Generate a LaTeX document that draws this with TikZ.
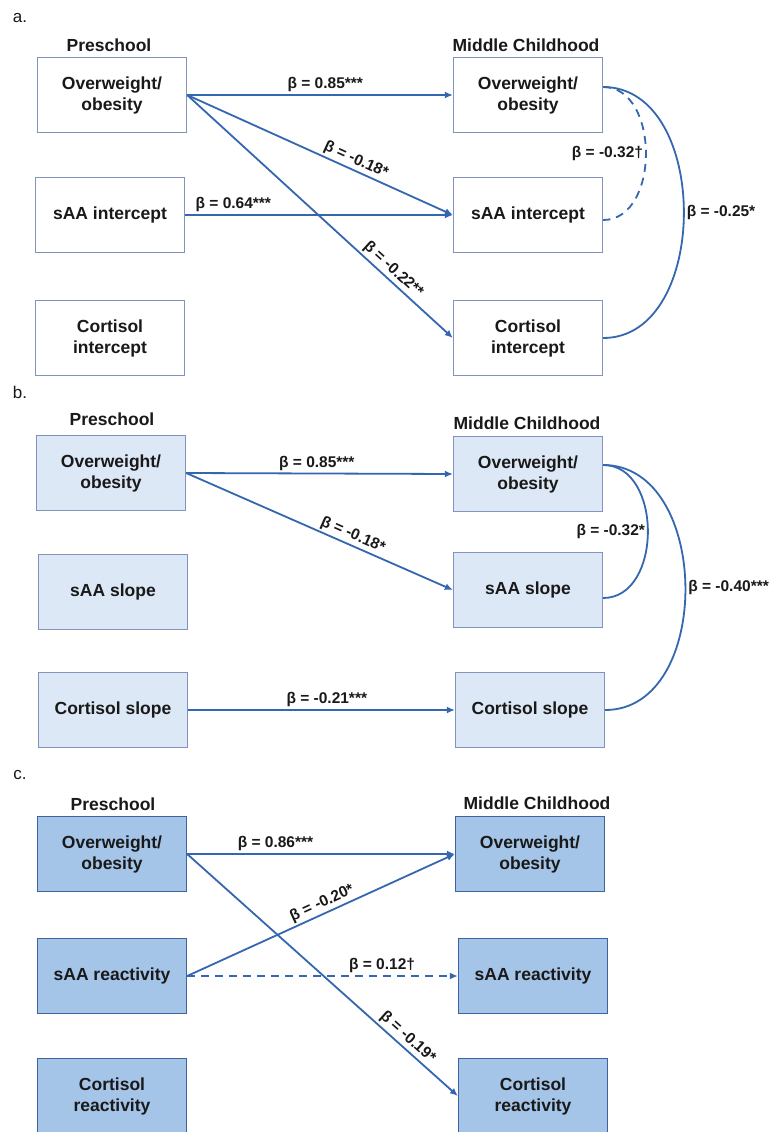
\documentclass[tikz,border=0pt]{standalone}
\usepackage{fontspec}
\setmainfont{Liberation Sans}
\usetikzlibrary{arrows.meta}
\definecolor{pathblue}{RGB}{52,103,176}
\definecolor{boxline}{RGB}{128,148,190}
\definecolor{boxlinec}{RGB}{62,100,160}
\definecolor{fillb}{RGB}{221,232,246}
\definecolor{fillc}{RGB}{164,196,232}
\definecolor{inkgray}{RGB}{25,25,25}

\begin{document}
\begin{tikzpicture}[x=1pt,y=-1pt,
         font=\fontsize{17.5}{21}\selectfont\bfseries, text=inkgray,
         box/.style = {draw=boxline,line width=1.3pt,minimum width=149pt,
            minimum height=75pt,align=center,inner sep=0pt},
         boxb/.style = {box,fill=fillb},
         boxc/.style = {box,draw=boxlinec,fill=fillc},
         effect/.style = {draw=pathblue,line width=1.8pt,
            -{Latex[length=8pt,width=7pt]}},
         corr/.style = {draw=pathblue,line width=1.8pt},
         maybe/.style = {dash pattern=on 8pt off 6pt},
         beta/.style = {font=\fontsize{15.5}{18}\selectfont\bfseries,inner sep=2pt},
         panel/.style = {font=\fontsize{17}{20}\selectfont}
]
      \path[use as bounding box,fill=white] (0,0) rectangle (770,1132);

      % a.
      \node[panel] (lbla) at (20,18) {a.};
      \node (prea) at (109,45) {Preschool};
      \node (mida) at (526,45) {Middle Childhood};
      \node[box] (pa1) at (112,95)  {Overweight/\\obesity};
      \node[box] (pa2) at (110,215) {sAA intercept};
      \node[box] (pa3) at (110,338) {Cortisol\\intercept};
      \node[box] (ma1) at (528,95)  {Overweight/\\obesity};
      \node[box] (ma2) at (528,215) {sAA intercept};
      \node[box] (ma3) at (528,338) {Cortisol\\intercept};

      \draw[effect] (pa1.east) -- node[beta,above,pos=0.52] {β = 0.85***} (ma1.west);
      \draw[effect] (pa1.east) -- node[beta,sloped,above,pos=0.62] {β = -0.18*} (ma2.west);
      \draw[effect] (pa1.east) -- node[beta,sloped,above,pos=0.75] {β = -0.22**} (ma3.west);
      \draw[effect] (pa2.east) -- node[beta,above,pos=0.18] {β = 0.64***} (ma2.west);
      \draw[corr,maybe] ([yshift=8pt]ma1.east) to[out=0,in=0,looseness=1.1]
         node[beta,left] {β = -0.32†} ([yshift=-5pt]ma2.east);
      \draw[corr] ([yshift=8pt]ma1.east) to[out=0,in=0,looseness=1.1]
         node[beta,right] {β = -0.25*} (ma3.east);

      % b.
      \node[panel] (lblb) at (20,392) {b.};
      \node (preb) at (112,419) {Preschool};
      \node (midb) at (527,423) {Middle Childhood};
      \node[boxb] (pb1) at (111,473) {Overweight/\\obesity};
      \node[boxb] (pb2) at (113,592) {sAA slope};
      \node[boxb] (pb3) at (113,710) {Cortisol slope};
      \node[boxb] (mb1) at (528,474) {Overweight/\\obesity};
      \node[boxb] (mb2) at (528,590) {sAA slope};
      \node[boxb] (mb3) at (530,710) {Cortisol slope};

      \draw[effect] (pb1.east) -- node[beta,above,pos=0.49] {β = 0.85***} (mb1.west);
      \draw[effect] (pb1.east) -- node[beta,sloped,above,pos=0.61] {β = -0.18*} (mb2.west);
      \draw[effect] (pb3.east) -- node[beta,above,pos=0.52] {β = -0.21***} (mb3.west);
      \draw[corr] ([yshift=9pt]mb1.east) to[out=0,in=0,looseness=1.15]
         node[beta,left] {β = -0.32*} ([yshift=-8pt]mb2.east);
      \draw[corr] ([yshift=9pt]mb1.east) to[out=0,in=0,looseness=1.13]
         node[beta,right] {β = -0.40***} (mb3.east);

      % c.
      \node[panel] (lblc) at (20,775) {c.};
      \node (prec) at (113,804) {Preschool};
      \node (midc) at (537,803) {Middle Childhood};
      \node[boxc] (pc1) at (112,854)  {Overweight/\\obesity};
      \node[boxc] (pc2) at (112,976)  {sAA reactivity};
      \node[boxc] (pc3) at (112,1096) {Cortisol\\reactivity};
      \node[boxc] (mc1) at (530,854)  {Overweight/\\obesity};
      \node[boxc] (mc2) at (533,976)  {sAA reactivity};
      \node[boxc] (mc3) at (533,1096) {Cortisol\\reactivity};

      \draw[effect] (pc1.east) -- node[beta,above,pos=0.33] {β = 0.86***} (mc1.west);
      \draw[effect] (pc2.east) -- node[beta,sloped,above,pos=0.52] {β = -0.20*} (mc1.west);
      \draw[effect,maybe] (pc2.east) -- node[beta,above,pos=0.72] {β = 0.12†} (mc2.west);
      \draw[effect] (pc1.east) -- node[beta,sloped,above,pos=0.79] {β = -0.19*} (mc3.west);
\end{tikzpicture}
\end{document}
